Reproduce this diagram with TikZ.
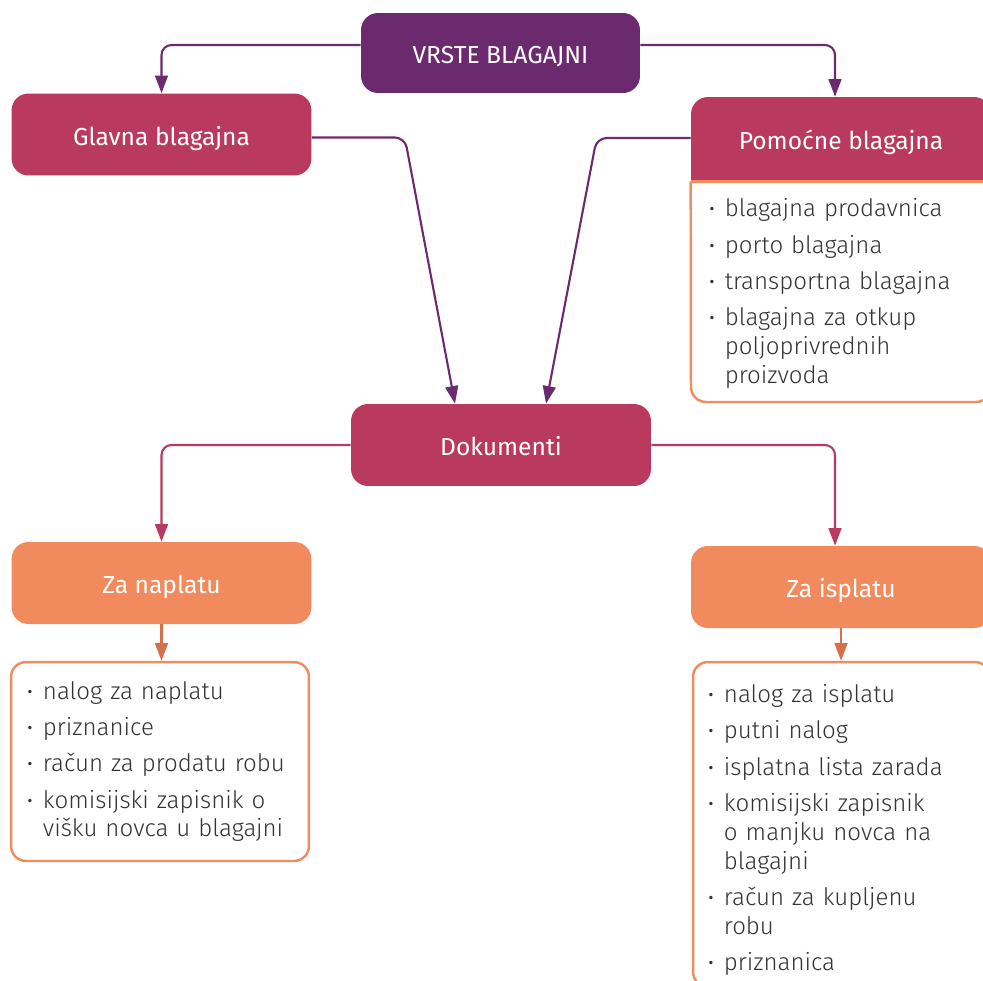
\documentclass[tikz,border=0pt]{standalone}
\usepackage{fontspec}
\setmainfont{Fira Sans}
\IfFontExistsTF{Fira Sans Light}{\newfontfamily\lagani{Fira Sans Light}}{\newfontfamily\lagani{Fira Sans}}
\usetikzlibrary{positioning, arrows.meta, calc}
\definecolor{ljubicasta}{RGB}{107,42,110}
\definecolor{malina}{RGB}{185,58,94}
\definecolor{narandzasta}{RGB}{241,139,94}
\definecolor{okvir}{RGB}{240,140,95}
\definecolor{strelica}{RGB}{214,112,75}
\definecolor{tekst}{RGB}{51,51,51}

% jedna stavka liste
\newcommand{\stavka}[1]{\hangindent=9pt\hangafter=1\noindent\makebox[9pt][l]{\normalfont·}#1\par}

\begin{document}
\begin{tikzpicture}[x=0.02cm, y=-0.02cm, >={Triangle[length=10pt, width=7.3pt]},
    kutija/.style={rounded corners=0.34cm, minimum width=6cm, minimum height=1.64cm,
        inner sep=0pt, text=white, text height=12.3pt, text depth=0pt, font=\fontsize{14}{17}\selectfont},
    listaokvir/.style={draw=okvir, line width=1.4pt, fill=white, rounded corners=0.3cm, inner sep=0pt},
    lista/.style={anchor=north west, inner sep=0pt, text width=5.5cm,
        text=tekst, font=\lagani\fontsize{13.7}{16.4}\selectfont},
    veza/.style={->, line width=1.2pt, rounded corners=0.2cm}]

\clip (0,0) rectangle (983,980);

% Naslov
\node[kutija, fill=ljubicasta, minimum width=5.58cm, minimum height=1.6cm] (vrste) at (500.5,53) {VRSTE BLAGAJNI};

% Vrste blagajni
\node[kutija, fill=malina] (glavna) at (161.5,134.5) {Glavna blagajna};
\node[kutija, fill=malina, minimum height=1.68cm] (pomocne) at (841,139) {};
\fill[malina] (pomocne.west) rectangle (pomocne.south east);
\node[kutija] at (pomocne) {Pomoćne blagajna};

% Lista pomocnih blagajni
\fill[white, rounded corners=0.3cm] (pomocne.south west) -- (691,402) -- (991,402) -- (pomocne.south east);
\draw[okvir, line width=1.4pt, rounded corners=0.3cm] (pomocne.south west) -- (691,402) -- (991,402) -- (pomocne.south east);
\draw[okvir, line width=1.4pt] (pomocne.south west) -- (pomocne.south east);
\node[lista] (tekstPom) at ($(pomocne.south west)+(18,17)$) {%
    \raggedright\setlength{\parindent}{0pt}\setlength{\parskip}{4.3pt}%
    \stavka{blagajna prodavnica}%
    \stavka{porto blagajna}%
    \stavka{transportna blagajna}%
    \stavka{blagajna za otkup\newline poljoprivrednih\newline proizvoda}};

% Dokumenti
\node[kutija, fill=malina] (dokumenti) at (501,445) {Dokumenti};
\node[kutija, fill=narandzasta] (naplatu) at (161.5,583) {Za naplatu};
\node[kutija, fill=narandzasta] (isplatu) at (841,587) {Za isplatu};

% Liste dokumenata
\node[listaokvir, minimum width=5.96cm, minimum height=3.98cm] (listaL) at (160,761.5) {};
\node[listaokvir, minimum width=5.94cm, minimum height=6.5cm] (listaD) at (841.5,824.5) {};
\node[lista] (tekstL) at ($(listaL.north west)+(17,20)$) {%
    \raggedright\setlength{\parindent}{0pt}\setlength{\parskip}{4.3pt}%
    \stavka{nalog za naplatu}%
    \stavka{priznanice}%
    \stavka{račun za prodatu robu}%
    \stavka{komisijski zapisnik o\newline višku novca u blagajni}};
\node[lista] (tekstD) at ($(listaD.north west)+(16,23)$) {%
    \raggedright\setlength{\parindent}{0pt}\setlength{\parskip}{4.3pt}%
    \stavka{nalog za isplatu}%
    \stavka{putni nalog}%
    \stavka{isplatna lista zarada}%
    \stavka{komisijski zapisnik\newline o manjku novca na\newline blagajni}%
    \stavka{račun za kupljenu\newline robu}%
    \stavka{priznanica}};

% Strelice
\draw[veza, ljubicasta] ($(vrste.west)+(0,-8)$) -| (glavna.north);
\draw[veza, ljubicasta] ($(vrste.east)+(0,-8)$) -| ($(pomocne.north)+(-6,0)$);
\draw[veza, ljubicasta] ($(glavna.east)+(0,3)$) -- ++(93,0) -- ($(dokumenti.north)+(-46,0)$);
\draw[veza, ljubicasta] ($(pomocne.west)+(0,-1)$) -- ++(-94,0) -- ($(dokumenti.north)+(45,0)$);
\draw[veza, malina] (dokumenti.west) -| (naplatu.north);
\draw[veza, malina] (dokumenti.east) -| ($(isplatu.north)+(-6,0)$);
\draw[veza, strelica] (naplatu.south) -- (naplatu.south |- listaL.north);
\draw[veza, strelica] (isplatu.south) -- (isplatu.south |- listaD.north);

\end{tikzpicture}
\end{document}
